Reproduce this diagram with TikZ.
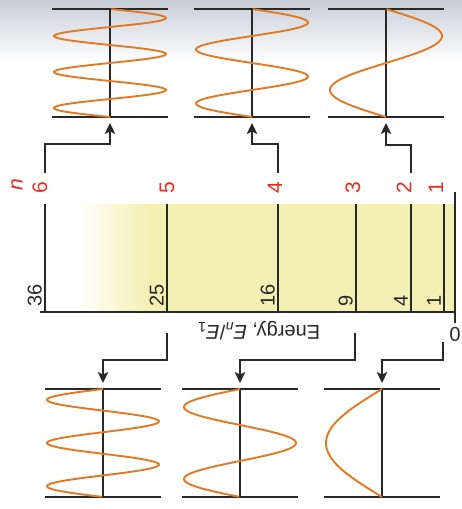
\documentclass[tikz,border=0pt]{standalone}
\usepackage{fontspec}
\setmainfont{Liberation Sans}
\usetikzlibrary{arrows.meta}
\definecolor{ink}{RGB}{40,40,40}
\definecolor{tangerine}{RGB}{226,122,36}
\definecolor{scarlet}{RGB}{225,45,35}
\definecolor{straw}{RGB}{244,239,178}
\definecolor{haze}{RGB}{200,205,214}
\tikzset{
  >={Stealth[length=11pt,width=10.5pt,inset=2.5pt]},
  eline/.style={draw=ink,line width=1.3pt},
  rim/.style={draw=ink,line width=1.2pt},
  psi/.style={draw=tangerine,line width=1.9pt},
  link/.style={->,draw=ink,line width=1.3pt},
  num/.style={font=\fontsize{20}{24}\selectfont,text=ink,inner sep=2pt},
  qnum/.style={font=\fontsize{21}{24}\selectfont,text=scarlet,inner sep=1pt},
}

\begin{document}
\begin{tikzpicture}[x=1pt,y=-1pt]
  \useasboundingbox (0,0) rectangle (462,509);
  \fill[white] (0,0) rectangle (462,509);
  \shade[top color=haze,bottom color=white] (0,0) rectangle (462,62);
  % energy ladder
  \shade[left color=white,right color=straw] (78,204) rectangle (150,312);
  \fill[straw] (149.5,204) rectangle (455,312);
  \foreach \n/\xx/\ee/\qx in {1/444/1/436,2/411/4/404,3/356/9/353,4/278/16/275,5/167/25/167,6/45/36/40} {
    \draw[eline] (\xx,204) -- (\xx,312);
    \node[num,rotate=90,anchor=south west] (E\n) at (\xx-1,309) {\ee};
    \node[qnum,rotate=90] (q\n) at (\qx,188) {\n};
  }
  \node[qnum,rotate=90,font=\fontsize{21}{24}\selectfont\itshape] (qn) at (17,185) {n};
  \draw[eline] (40,312) -- (455,312);
  \draw[eline] (455,192) -- (455,323);
  \node[num,rotate=180] (zero) at (455,334) {0};
  \node[num,rotate=180] (elabel) at (259,331) {Energy, \textit{E}\textsubscript{\textit{n}}/\textit{E}\textsubscript{1}};
  % wavefunctions
  \foreach \n/\cx/\yb/\dir in {6/110/117/-1,4/252/117/-1,2/386/117/-1,5/103/389/1,3/240/389/1,1/382/389/1} {
    \draw[rim] ({\cx-58},\yb) -- ({\cx+58},\yb) ({\cx-58},{\yb+108*\dir}) -- ({\cx+58},{\yb+108*\dir});
    \draw[rim] (\cx,\yb) -- (\cx,{\yb+108*\dir});
    \draw[psi] plot[domain=0:1,samples=120,variable=\t] ({\cx-56*sin(\n*180*\t)},{\yb+108*\dir*\t});
    \coordinate (psi\n) at (\cx,{\yb-6*\dir});
  }
  \foreach \n/\sx/\sy in {6/45/173,4/278/173,2/411/173,5/167/333,3/355/333,1/443/342}
    \coordinate (from\n) at (\sx,\sy);
  \draw[link] (from6) -- ++(0,-29) -| (psi6);
  \draw[link] (from4) -- ++(0,-29) -| (psi4);
  \draw[link] (from2) -- ++(0,-28) -| (psi2);
  \draw[link] (from5) -- ++(0,27) -| (psi5);
  \draw[link] (from3) -- ++(0,27) -| (psi3);
  \draw[link] (from1) -- ++(0,18) -| (psi1);
\end{tikzpicture}
\end{document}
